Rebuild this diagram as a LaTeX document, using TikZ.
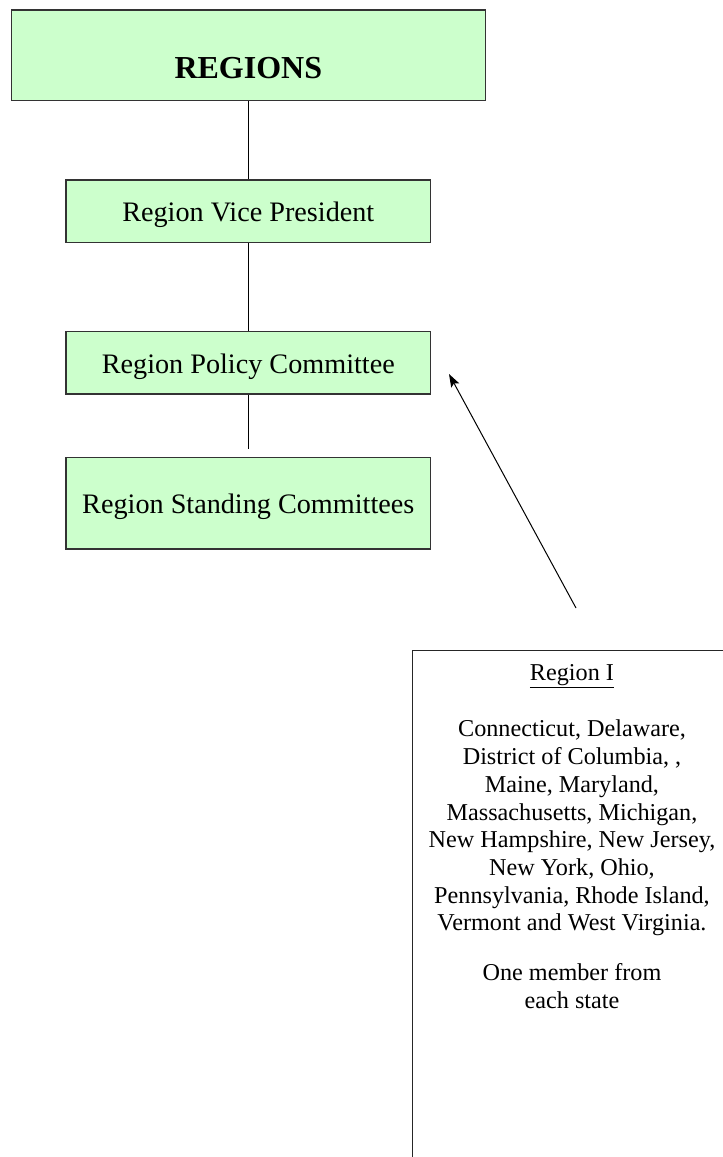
\documentclass[tikz,border=0pt]{standalone}
\usepackage{fontspec}
\setmainfont{Liberation Serif}
\usetikzlibrary{arrows.meta}
\definecolor{boxgreen}{HTML}{CCFFCC}
\begin{document}
\begin{tikzpicture}[x=1pt,y=-1pt,>={Stealth[length=13pt,width=9pt,inset=2.5pt]},
    orgbox/.style={draw=black!80,fill=boxgreen,line width=1.2pt,inner sep=0pt,
        minimum width=364.7pt,text height=21pt,text depth=0pt,
        font=\fontsize{28.2}{32}\selectfont},
    listbox/.style={draw=black!85,line width=1.2pt,inner sep=0pt},
    listtext/.style={align=center,inner sep=0pt,font=\fontsize{24.2}{27.7}\selectfont}]
            \def\mx{248.3}
            \useasboundingbox (0,0) rectangle (723,1157);
            %===========================================
            \node[orgbox,minimum width=474.3pt,minimum height=90.7pt,text height=46pt,
                font=\fontsize{32}{36}\selectfont\bfseries] (regions) at (\mx,55.3) {REGIONS};
            \node[orgbox,minimum height=62.3pt] (vicepres) at (\mx,211.2) {Region Vice President};
            \node[orgbox,minimum height=62.3pt] (policy) at (\mx,362.9) {Region Policy Committee};
            \node[orgbox,minimum height=91.7pt] (standing) at (\mx,503.2) {Region Standing Committees};
            \draw[line width=1pt] (regions) -- (vicepres);
            \draw[line width=1pt] (vicepres) -- (policy);
            \draw[line width=1pt,shorten >=8pt] (policy) -- (standing);
            %===========================================
            \node[listbox,anchor=north west,minimum width=320pt,minimum height=530pt] (regionone) at (412,650) {};
            \node[listtext,anchor=north] (statelist) at (572,664) {\underline{Region I}\\[29pt]
                Connecticut, Delaware,\\ District of Columbia, ,\\ Maine, Maryland,\\
                Massachusetts, Michigan,\\ New Hampshire, New Jersey,\\ New York, Ohio,\\
                Pennsylvania, Rhode Island,\\ Vermont and West Virginia.\\[22pt]
                One member from\\ each state};
            \coordinate (armstart) at (576,608);
            \coordinate (armtip) at (449,374);
            \draw[->,line width=1pt] (armstart) -- (armtip);
    \end{tikzpicture}
\end{document}
